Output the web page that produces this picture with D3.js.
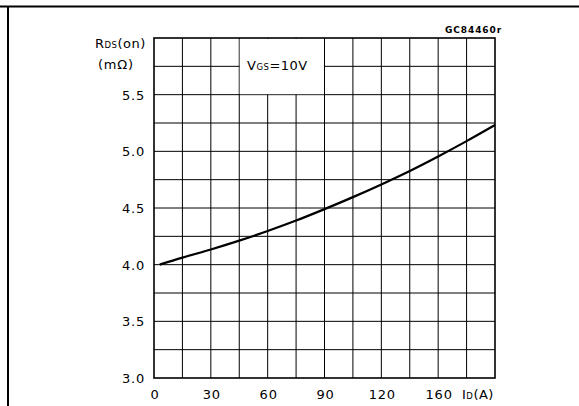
<!DOCTYPE html>
<html>
<head>
<meta charset="utf-8">
<script src="https://cdn.jsdelivr.net/npm/d3@7"></script>
<style>
  body { margin: 0; background: #fff; }
  svg text { font-family: "DejaVu Sans", sans-serif; fill: #000; }
</style>
</head>
<body>
<svg id="chart" width="579" height="406"></svg>
<script>
// current (A) vs on-resistance (mOhm)
var currentA = [3, 15, 30, 45, 60, 75, 90, 105, 120, 135, 150, 165, 180];
var rdsOn    = [4.0, 4.062, 4.134, 4.212, 4.297, 4.389, 4.49, 4.596, 4.708, 4.827, 4.955, 5.09, 5.232];

var xTicks = [0, 30, 60, 90, 120, 150];
var xTickLabels = ["0", "30", "60", "90", "120", "160"];
var yTicks = [3.0, 3.5, 4.0, 4.5, 5.0, 5.5];

var svg = d3.select("#chart");

var x = d3.scaleLinear().domain([0, 180]).range([154, 495]);
var y = d3.scaleLinear().domain([3, 6]).range([378, 38]);

// outer frame (top rule + left rule)
svg.append("line")
  .attr("x1", 0).attr("x2", 579).attr("y1", 6.5).attr("y2", 6.5)
  .attr("stroke", "#000").attr("stroke-width", 2);
svg.append("line")
  .attr("x1", 8).attr("x2", 8).attr("y1", 6).attr("y2", 406)
  .attr("stroke", "#000").attr("stroke-width", 2);

var grid = svg.append("g").attr("class", "grid");

grid.selectAll(".v")
  .data(d3.range(15, 180, 15))
  .enter().append("line")
  .attr("class", "v")
  .attr("x1", function(d) { return x(d); }).attr("x2", function(d) { return x(d); })
  .attr("y1", y(3)).attr("y2", y(6))
  .attr("stroke", "#000").attr("stroke-width", 1);

grid.selectAll(".h")
  .data(d3.range(3.25, 6, 0.25))
  .enter().append("line")
  .attr("class", "h")
  .attr("x1", x(0)).attr("x2", x(180))
  .attr("y1", function(d) { return y(d); }).attr("y2", function(d) { return y(d); })
  .attr("stroke", "#000").attr("stroke-width", 1);

// white box behind the condition label
svg.append("rect")
  .attr("x", x(45) + 0.5).attr("y", y(6) + 1)
  .attr("width", x(90) - x(45) - 1).attr("height", y(5.5) - y(6) - 1.5)
  .attr("fill", "#fff");

// plot border
svg.append("rect")
  .attr("x", x(0)).attr("y", y(6))
  .attr("width", x(180) - x(0)).attr("height", y(3) - y(6))
  .attr("fill", "none").attr("stroke", "#000").attr("stroke-width", 1.6);

// curve
var line = d3.line()
  .x(function(d) { return x(d[0]); })
  .y(function(d) { return y(d[1]); })
  .curve(d3.curveCatmullRom);

svg.append("path")
  .datum(d3.zip(currentA, rdsOn))
  .attr("d", line)
  .attr("fill", "none")
  .attr("stroke", "#000")
  .attr("stroke-width", 2.2);

// y tick labels
svg.selectAll(".ylab")
  .data(yTicks)
  .enter().append("text")
  .attr("class", "ylab")
  .attr("x", 145)
  .attr("y", function(d) { return y(d) + 5; })
  .attr("text-anchor", "end")
  .attr("font-size", 13)
  .attr("letter-spacing", 0.8)
  .text(function(d) { return d.toFixed(1); });

// x tick labels
svg.selectAll(".xlab")
  .data(xTicks)
  .enter().append("text")
  .attr("class", "xlab")
  .attr("x", function(d) { return x(d) + 1; })
  .attr("y", 399)
  .attr("text-anchor", "middle")
  .attr("font-size", 13)
  .attr("letter-spacing", 0.8)
  .text(function(d, i) { return xTickLabels[i]; });

// axis titles
var rt = svg.append("text").attr("x", 95).attr("y", 48).attr("font-size", 13).attr("letter-spacing", 0.5);
rt.append("tspan").text("R");
rt.append("tspan").attr("font-size", 8.5).text("DS");
rt.append("tspan").text("(on)");

svg.append("text")
  .attr("x", 98).attr("y", 69)
  .attr("font-size", 13).attr("letter-spacing", 0.8)
  .text("(m\u03A9)");

var it = svg.append("text").attr("x", 462).attr("y", 399).attr("font-size", 13).attr("letter-spacing", 0.5);
it.append("tspan").text("I");
it.append("tspan").attr("font-size", 8.5).text("D");
it.append("tspan").text("(A)");

var vt = svg.append("text").attr("x", 247).attr("y", 70).attr("font-size", 13).attr("letter-spacing", 0.5);
vt.append("tspan").text("V");
vt.append("tspan").attr("font-size", 8.5).text("GS");
vt.append("tspan").text("=10V");

svg.append("text")
  .attr("x", 502).attr("y", 33)
  .attr("text-anchor", "end")
  .attr("font-size", 9)
  .attr("font-weight", "bold")
  .attr("letter-spacing", 0.9)
  .text("GC84460r");
</script>
</body>
</html>
